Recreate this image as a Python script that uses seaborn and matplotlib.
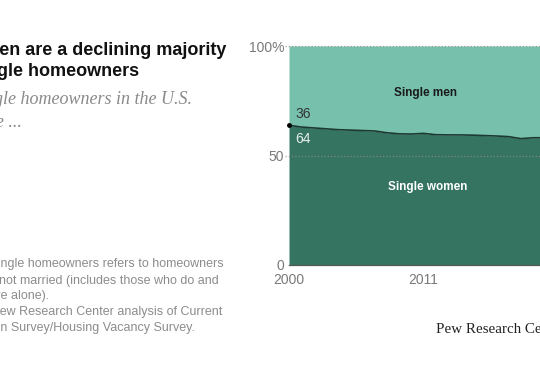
import numpy as np
import pandas as pd
import matplotlib
matplotlib.use('Agg')
import matplotlib.pyplot as plt
import seaborn as sns

# data: share of single homeowners who are women (%)
years = list(range(2000, 2022))
women = [63.8, 63.0, 62.6, 62.2, 61.8, 61.6, 61.4, 61.2, 60.4, 59.9, 59.8,
         60.1, 59.5, 59.4, 59.4, 59.3, 59.1, 58.9, 58.6, 57.7, 58.1, 58.1]
x_ticks = [2000, 2011]
x_tick_labels = ['2000', '2011']
y_ticks = [0, 50, 100]
y_tick_labels = ['0', '50', '100%']

df = pd.DataFrame({'year': years, 'women': women})
df['men'] = 100 - df.women

light = '#76c0ac'
dark = '#367462'
line_col = '#1d3a31'
gray = '#8c8c8c'

sns.set_style('white')
plt.rcParams['font.family'] = ['Liberation Sans', 'DejaVu Sans']

W, H = 540, 370
fig = plt.figure(figsize=(5.4, 3.7), dpi=100)
ax = fig.add_axes([289 / W, 1 - 265 / H, 22 * 12.21 / W, 219 / H])

# stacked areas
ax.fill_between(df.year, 0, df.women, color=dark, lw=0, zorder=1)
ax.fill_between(df.year, df.women, 100, color=light, lw=0, zorder=1)
sns.lineplot(data=df, x='year', y='women', color=line_col, lw=1.2, ax=ax,
             zorder=3)
ax.plot(df.year.iloc[0], df.women.iloc[0], 'o', color='black', ms=2.5,
        zorder=4, clip_on=False)

# dotted gridlines
for yv in [50, 100]:
    ax.axhline(yv, xmin=-0.015, xmax=1, color=gray, lw=0.9, ls=(0, (1, 1.6)),
               zorder=2, clip_on=False, alpha=0.8)

ax.set_xlim(2000, 2022)
ax.set_ylim(0, 100)
ax.set_xticks(x_ticks, x_tick_labels)
ax.set_yticks(y_ticks, y_tick_labels)
ax.tick_params(axis='x', length=3, width=0.8, color='#555555', pad=2.5,
               labelsize=10, labelcolor='#7a7a7a')
ax.tick_params(axis='y', length=0, pad=3.5, labelsize=10,
               labelcolor='#7a7a7a')
ax.set_xlabel('')
ax.set_ylabel('')
for s in ['top', 'right', 'left']:
    ax.spines[s].set_visible(False)
ax.spines['bottom'].set_color('#555555')
ax.spines['bottom'].set_linewidth(0.9)
ax.spines['bottom'].set_zorder(5)

# labels inside the chart
ax.text(2000.5, df.women.iloc[0] + 3.4, '36', fontsize=10, color='#333333',
        va='baseline')
ax.text(2000.5, df.women.iloc[0] - 8.2, '64', fontsize=10, color='#e6efec',
        va='baseline')
ax.text(11.15 + 2000, 77.3, 'Single men', fontsize=8.5, fontweight='bold',
        color='#1a1a1a', ha='center', va='baseline')
ax.text(11.35 + 2000, 34.2, 'Single women', fontsize=8.5, fontweight='bold',
        color='white', ha='center', va='baseline')


def ftext(x, y, s, **kw):
    fig.text(x / W, 1 - y / H, s, va='baseline', **kw)


# title and subtitle (left part falls outside the canvas, as in the source)
ftext(226, 55, 'Single women are a declining majority', ha='right',
      fontsize=13, fontweight='bold', color='#111111')
ftext(139, 75.5, 'of single homeowners', ha='right', fontsize=13,
      fontweight='bold', color='#111111')
serif = ['Liberation Serif', 'DejaVu Serif']
ftext(192, 104, '% of single homeowners in the U.S.', ha='right',
      fontsize=13, style='italic', color='#8a8a8a', family=serif)
ftext(22, 127, 'who are ...', ha='right', fontsize=13, style='italic',
      color='#8a8a8a', family=serif)

# notes
notes = [('Note: Single homeowners refers to homeowners', 224, 267),
         ('who are not married (includes those who do and', 219, 284),
         ('do not live with others and those who are alone).', 49, 299),
         ('Source: Pew Research Center analysis of Current', 222, 315),
         ('Population Survey/Housing Vacancy Survey.', 195, 331)]
for s, xr, yb in notes:
    ftext(xr, yb, s, ha='right', fontsize=9, color='#8c8c8c')

ftext(436, 333, 'Pew Research Center', ha='left', fontsize=10.8,
      color='#222222', family=serif)

fig.savefig('out.png', dpi=100)
